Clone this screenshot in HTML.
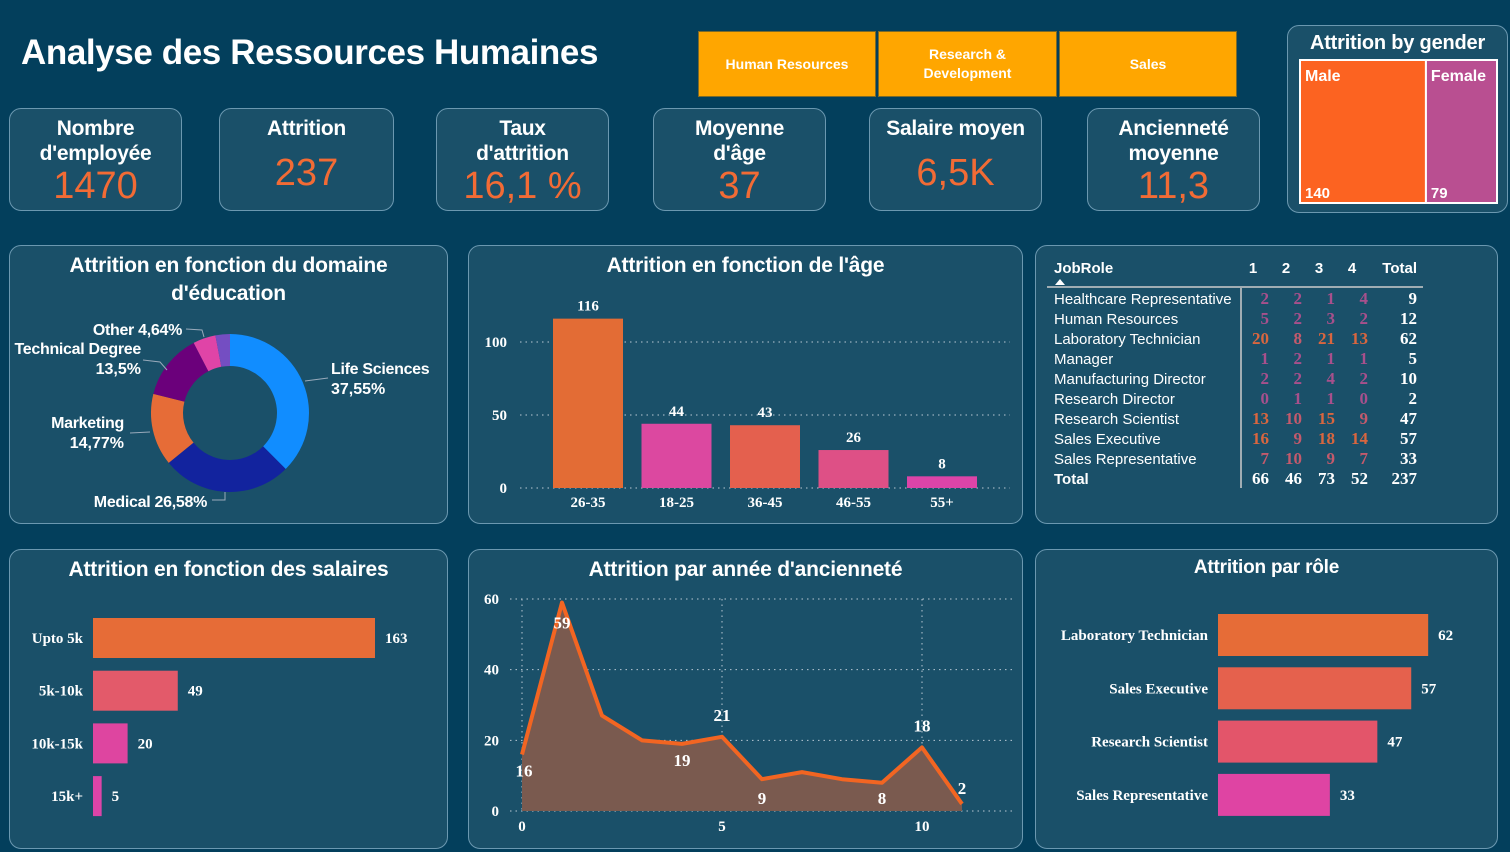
<!DOCTYPE html>
<html><head><meta charset="utf-8">
<style>
*{margin:0;padding:0;box-sizing:border-box}
body{width:1510px;height:852px;background:#033f5c;font-family:"Liberation Sans",sans-serif;color:#fff;position:relative;overflow:hidden}
.p{position:absolute;background:#1a5069;border:1.5px solid #6b98b0;border-radius:12px}
.kt{position:absolute;left:0;right:0;text-align:center;font-weight:bold;font-size:21px;line-height:25px;letter-spacing:-0.3px}
.kv{position:absolute;left:0;right:0;text-align:center;color:#f26b35;font-size:38px;font-family:"Liberation Sans Narrow","Liberation Sans",sans-serif}
.sl{position:absolute;background:#ffa600;border:1.5px solid #7a6a2a;font-weight:bold;font-size:14px;display:flex;align-items:center;justify-content:center;text-align:center;line-height:19px}
.tt{position:absolute;left:0;right:0;text-align:center;font-weight:bold;font-size:21px;line-height:28px;letter-spacing:-0.2px}
svg{position:absolute;left:0;top:0}
</style></head><body>
<div style="position:absolute;left:21px;top:33px;font-size:35px;font-weight:bold;letter-spacing:-0.4px">Analyse des Ressources Humaines</div>

<div class="sl" style="left:698px;top:31px;width:178px;height:66px">Human Resources</div>
<div class="sl" style="left:878px;top:31px;width:179px;height:66px">Research &amp;<br>Development</div>
<div class="sl" style="left:1059px;top:31px;width:178px;height:66px">Sales</div>

<div class="p" style="left:9px;top:108px;width:173px;height:103px"><div class="kt" style="top:7px">Nombre<br>d'employée</div><div class="kv" style="top:56px">1470</div></div>
<div class="p" style="left:219px;top:108px;width:175px;height:103px"><div class="kt" style="top:7px">Attrition</div><div class="kv" style="top:43px">237</div></div>
<div class="p" style="left:436px;top:108px;width:173px;height:103px"><div class="kt" style="top:7px">Taux<br>d'attrition</div><div class="kv" style="top:56px">16,1 %</div></div>
<div class="p" style="left:653px;top:108px;width:173px;height:103px"><div class="kt" style="top:7px">Moyenne<br>d'âge</div><div class="kv" style="top:56px">37</div></div>
<div class="p" style="left:869px;top:108px;width:173px;height:103px"><div class="kt" style="top:7px">Salaire moyen</div><div class="kv" style="top:43px">6,5K</div></div>
<div class="p" style="left:1087px;top:108px;width:173px;height:103px"><div class="kt" style="top:7px">Ancienneté<br>moyenne</div><div class="kv" style="top:56px">11,3</div></div>

<div class="p" style="left:1287px;top:25px;width:221px;height:188px"><div class="tt" style="top:3px;font-size:20px">Attrition by gender</div></div>

<div class="p" style="left:9px;top:245px;width:439px;height:279px"><div class="tt" style="top:6px">Attrition en fonction du domaine<br>d'éducation</div></div>
<div class="p" style="left:468px;top:245px;width:555px;height:279px"><div class="tt" style="top:6px">Attrition en fonction de l'âge</div></div>
<div class="p" style="left:1035px;top:245px;width:463px;height:279px"></div>
<div class="p" style="left:9px;top:549px;width:439px;height:300px"><div class="tt" style="top:6px">Attrition en fonction des salaires</div></div>
<div class="p" style="left:468px;top:549px;width:555px;height:300px"><div class="tt" style="top:6px">Attrition par année d'ancienneté</div></div>
<div class="p" style="left:1035px;top:549px;width:463px;height:300px"><div class="tt" style="top:4px;font-size:19px">Attrition par rôle</div></div>

<svg id="s" width="1510" height="852"></svg>

<script>
const genderLabels=["Male","Female"];
const genderValues=[140,79];
const eduLabels=["Life Sciences","Medical","Marketing","Technical Degree","Other","Human Resources"];
const eduValues=[37.55,26.58,14.77,13.5,4.64,2.96];
const ageCats=["26-35","18-25","36-45","46-55","55+"];
const ageValues=[116,44,43,26,8];
const ageTicks=[0,50,100];
const salCats=["Upto 5k","5k-10k","10k-15k","15k+"];
const salValues=[163,49,20,5];
const tenureYears=[0,1,2,3,4,5,6,7,8,9,10,11];
const tenureValues=[16,59,27,20,19,21,9,11,9,8,18,2];
const tenureLabeled=[0,1,4,5,6,9,10,11];
const tenureYTicks=[0,20,40,60];
const tenureXTicks=[0,5,10];
const roleCats=["Laboratory Technician","Sales Executive","Research Scientist","Sales Representative"];
const roleValues=[62,57,47,33];
const tblRoles=["Healthcare Representative","Human Resources","Laboratory Technician","Manager","Manufacturing Director","Research Director","Research Scientist","Sales Executive","Sales Representative"];
const tblC1=[2,5,20,1,2,0,13,16,7];
const tblC2=[2,2,8,2,2,1,10,9,10];
const tblC3=[1,3,21,1,4,1,15,18,9];
const tblC4=[4,2,13,1,2,0,9,14,7];

const S=document.getElementById('s');const NS='http://www.w3.org/2000/svg';
function mk(t,a,txt){const e=document.createElementNS(NS,t);for(const k in a)e.setAttribute(k,a[k]);if(txt!==undefined)e.textContent=txt;S.appendChild(e);return e;}
const F='"Liberation Sans",sans-serif', FS='"Liberation Serif",serif';

// gender treemap
(function(){const x0=1300,y0=60,w=197,h=143,tot=genderValues.reduce((a,b)=>a+b,0);let x=x0;const cols=['#fc6321','#b94f91'];
genderValues.forEach((v,i)=>{const ww=w*v/tot;const r=mk('rect',{x:x,y:y0,width:ww,height:h,fill:cols[i],stroke:'#fff','stroke-width':2});

const t=mk('text',{x:x+5,y:y0+21,'font-family':F,'font-size':16,'font-weight':'bold',fill:'#fff'},genderLabels[i]);
const t2=mk('text',{x:x+5,y:y0+138,'font-family':F,'font-size':15,'font-weight':'bold',fill:'#fff'},v);x+=ww;});})();

// donut
(function(){const cx=230,cy=413,R=79,r=47;const cols=['#118dff','#12239e','#e66c37','#6b007b','#e044a7','#744ec2'];const tot=eduValues.reduce((a,b)=>a+b,0);let a=0;
eduValues.forEach((v,i)=>{const a1=a+v/tot*2*Math.PI;const p=(ang,rr)=>[cx+rr*Math.sin(ang),cy-rr*Math.cos(ang)];const [x1,y1]=p(a,R),[x2,y2]=p(a1,R),[x3,y3]=p(a1,r),[x4,y4]=p(a,r);const lg=a1-a>Math.PI?1:0;
const e=mk('path',{d:`M${x1} ${y1}A${R} ${R} 0 ${lg} 1 ${x2} ${y2}L${x3} ${y3}A${r} ${r} 0 ${lg} 0 ${x4} ${y4}Z`,fill:cols[i]});a=a1;});
const labs=[["Life Sciences","37,55%",331,374,'start'],["Medical 26,58%",null,207,507,'end'],["Marketing","14,77%",124,428,'end'],["Technical Degree","13,5%",141,354,'end'],["Other 4,64%",null,182,335,'end']];
labs.forEach((l,i)=>{const t=mk('text',{x:l[2],y:l[3],'font-family':F,'font-size':16,'font-weight':'bold',fill:'#fff','text-anchor':l[4],'letter-spacing':'-0.3'},l[0]);
if(l[1]){const t2=mk('text',{x:l[2],y:l[3]+20,'font-family':F,'font-size':16,'font-weight':'bold',fill:'#fff','text-anchor':l[4]},l[1]);}});
[[305,381,328,378],[212,500,225,500,225,492],[130,433,150,432],[143,360,160,362,167,370],[186,329,202,330,204,337]].forEach(q=>{let d='M'+q[0]+' '+q[1];for(let k=2;k<q.length;k+=2)d+='L'+q[k]+' '+q[k+1];const e=mk('path',{d:d,stroke:'#9ab',fill:'none'});});})();

// age bars
(function(){const base=488,sc=1.46,x0=545,step=88.5,bw=70;const cols=['#e36c35','#dc48a0','#e4604e','#de5086','#dc44a8'];
ageTicks.forEach(t=>{const y=base-t*sc;const l=mk('line',{x1:520,x2:1010,y1:y,y2:y,stroke:'#b8c8d4','stroke-dasharray':'1.5 4'});
const tx=mk('text',{x:507,y:y+5,'font-family':FS,'font-size':15,'font-weight':'bold',fill:'#fff','text-anchor':'end'},t);});
ageValues.forEach((v,i)=>{const x=x0+8+i*step,h=v*sc;const b=mk('rect',{x:x,y:base-h,width:bw,height:h,fill:cols[i]});
const t=mk('text',{x:x+bw/2,y:base-h-8,'font-family':FS,'font-size':15,'font-weight':'bold',fill:'#fff','text-anchor':'middle'},v);
const c=mk('text',{x:x+bw/2,y:507,'font-family':FS,'font-size':15,'font-weight':'bold',fill:'#fff','text-anchor':'middle'},ageCats[i]);});})();

// salary bars
(function(){const x0=93,sc=1.73,y0=618,step=52.7,bh=40;const cols=['#e66c37','#e35a6a','#de45a0','#dc44a8'];
salValues.forEach((v,i)=>{const y=y0+i*step;const b=mk('rect',{x:x0,y:y,width:v*sc,height:bh,fill:cols[i]});
const c=mk('text',{x:83,y:y+25,'font-family':FS,'font-size':15,'font-weight':'bold',fill:'#fff','text-anchor':'end'},salCats[i]);
const t=mk('text',{x:x0+v*sc+10,y:y+25,'font-family':FS,'font-size':15,'font-weight':'bold',fill:'#fff'},v);});})();

// tenure area
(function(){const X=v=>522+v*40,Y=v=>811-v*3.533;
tenureYTicks.forEach(t=>{const l=mk('line',{x1:510,x2:1015,y1:Y(t),y2:Y(t),stroke:'#b8c8d4','stroke-dasharray':'1.5 4'});
const tx=mk('text',{x:499,y:Y(t)+5,'font-family':FS,'font-size':15,'font-weight':'bold',fill:'#fff','text-anchor':'end'},t);});
tenureXTicks.forEach(t=>{const l=mk('line',{x1:X(t),x2:X(t),y1:Y(60),y2:Y(0),stroke:'#b8c8d4','stroke-dasharray':'1.5 4'});
const tx=mk('text',{x:X(t),y:831,'font-family':FS,'font-size':15,'font-weight':'bold',fill:'#fff','text-anchor':'middle'},t);});
let d='';tenureYears.forEach((yr,i)=>{d+=(i?'L':'M')+X(yr)+' '+Y(tenureValues[i]);});
const ar=mk('path',{d:d+`L${X(tenureYears[tenureYears.length-1])} ${Y(0)}L${X(0)} ${Y(0)}Z`,fill:'#7a5a4f'});
const ln=mk('path',{d:d,fill:'none',stroke:'#f26522','stroke-width':4,'stroke-linejoin':'round'});
const off={0:[2,22],1:[0,26],4:[0,22],5:[0,-16],6:[0,-12],9:[0,-12],10:[0,-16],11:[0,-10]};
tenureLabeled.forEach(yr=>{const i=tenureYears.indexOf(yr);const o=off[yr]||[0,-12];let yy=Y(tenureValues[i])+o[1];if(yr===6||yr===9)yy=Y(0)-7;
const t=mk('text',{x:X(yr)+o[0],y:yy,'font-family':FS,'font-size':17,'font-weight':'bold',fill:'#fff','text-anchor':'middle'},tenureValues[i]);});})();

// role bars
(function(){const x0=1218,sc=3.39,y0=614,step=53.3,bh=42;const cols=['#e66c37','#e5614d','#e3556a','#df44a3'];
roleValues.forEach((v,i)=>{const y=y0+i*step;const b=mk('rect',{x:x0,y:y,width:v*sc,height:bh,fill:cols[i]});
const c=mk('text',{x:1208,y:y+26,'font-family':FS,'font-size':15,'font-weight':'bold',fill:'#fff','text-anchor':'end'},roleCats[i]);
const t=mk('text',{x:x0+v*sc+10,y:y+26,'font-family':FS,'font-size':15,'font-weight':'bold',fill:'#fff'},v);});})();

// table
(function(){const cols=[tblC1,tblC2,tblC3,tblC4];const xs=[1269,1302,1335,1368];
const T=(x,y,s,anchor,bold,col,fam,fs)=>mk('text',{x:x,y:y,'font-family':fam||F,'font-size':fs||15,'font-weight':bold?'bold':'normal',fill:col||'#fff','text-anchor':anchor},s);
let h=T(1054,273,'JobRole','start',true);
['1','2','3','4'].forEach((c,i)=>{const e=T(xs[i]-16,273,c,'middle',true);});
h=T(1417,273,'Total','end',true);
const ar=mk('path',{d:'M1055 285L1060 279L1065 285Z',fill:'#fff'});
const l1=mk('line',{x1:1047,x2:1423,y1:287,y2:287,stroke:'#ccc','stroke-width':1.5});
const l2=mk('line',{x1:1241,x2:1241,y1:288,y2:488,stroke:'#ccc','stroke-width':1.5});
const colr=v=>v>=13?'#d9663f':v>=7?'#c45a6c':'#a8508c';
tblRoles.forEach((r,j)=>{const y=304+j*20;const e=T(1054,y,r,'start',false);let tot=0;
cols.forEach((c,i)=>{tot+=c[j];const n=T(xs[i],y,c[j],'end',true,colr(c[j]),FS,17);});
const t=T(1417,y,tot,'end',true,'#fff',FS,17);});
const y=484;const e=T(1054,y,'Total','start',true);let g=0;
cols.forEach((c,i)=>{const s=c.reduce((a,b)=>a+b,0);g+=s;const n=T(xs[i],y,s,'end',true,'#fff',FS,17);});
const gt=T(1417,y,g,'end',true,'#fff',FS,17);})();
</script>
</body></html>
